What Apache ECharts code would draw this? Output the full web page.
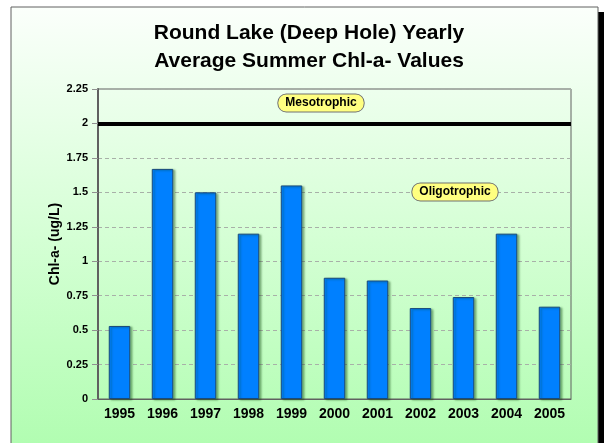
<!DOCTYPE html>
<html>
<head>
<meta charset="utf-8">
<script src="https://cdn.jsdelivr.net/npm/echarts@6/dist/echarts.min.js"></script>
<style>html,body{margin:0;padding:0;background:#fff;}#c{width:604px;height:443px;}</style>
</head>
<body>
<div id="c"></div>
<script>
const years = ['1995','1996','1997','1998','1999','2000','2001','2002','2003','2004','2005'];
const chlA = [0.53, 1.67, 1.5, 1.2, 1.55, 0.88, 0.86, 0.66, 0.74, 1.2, 0.67];
const mesotrophicThreshold = 2;
const yMin = 0, yMax = 2.25, yStep = 0.25;
const titleText = 'Round Lake (Deep Hole) Yearly\nAverage Summer Chl-a- Values';
const yAxisName = 'Chl-a- (ug/L)';
const zoneLabels = ['Mesotrophic', 'Oligotrophic'];

const chart = echarts.init(document.getElementById('c'), null, {renderer: 'canvas'});
const FONT = 'Liberation Sans, Arial, sans-serif';
const tagStyle = (txt) => ({
  text: txt, font: 'bold 12px ' + FONT, fill: '#000',
  backgroundColor: '#ffff80', borderColor: '#707070', borderWidth: 1,
  borderRadius: 8, padding: [3, 7, 2, 7], align: 'center', verticalAlign: 'middle'
});
chart.setOption({
  backgroundColor: '#ffffff',
  animation: false,
  graphic: [
    {type: 'rect', z: -20, shape: {x: 17, y: 12, width: 587, height: 440}, style: {fill: '#000'}, silent: true},
    {type: 'rect', z: -10, shape: {x: 11, y: 7, width: 587, height: 445},
     style: {fill: new echarts.graphic.LinearGradient(0, 0, 0, 1, [
       {offset: 0, color: '#fbfffb'}, {offset: 0.5, color: '#d6ffd6'}, {offset: 1, color: '#b0fdb0'}]),
       stroke: '#606060', lineWidth: 1}, silent: true},
    {type: 'text', z: 50, x: 321, y: 103, style: tagStyle(zoneLabels[0])},
    {type: 'text', z: 50, x: 455, y: 192, style: tagStyle(zoneLabels[1])}
  ],
  title: {
    text: titleText, left: 304, top: 14, textAlign: 'center',
    textStyle: {fontFamily: FONT, fontWeight: 'bold', fontSize: 21, lineHeight: 28, color: '#000'}
  },
  grid: {left: 98, right: 33, top: 89, bottom: 44, show: true, borderColor: '#606060', borderWidth: 1, backgroundColor: 'transparent'},
  xAxis: {
    type: 'category', data: years,
    axisLine: {lineStyle: {color: '#606060', width: 1}},
    axisTick: {show: false},
    axisLabel: {color: '#000', fontFamily: FONT, fontWeight: 'bold', fontSize: 14, margin: 8}
  },
  yAxis: {
    type: 'value', min: yMin, max: yMax, interval: yStep,
    name: yAxisName, nameLocation: 'middle', nameGap: 36, nameRotate: 90, nameMoveOverlap: false,
    nameTextStyle: {color: '#000', fontFamily: FONT, fontWeight: 'bold', fontSize: 14},
    axisLine: {show: true, lineStyle: {color: '#606060', width: 2}},
    axisTick: {show: true, length: 6, lineStyle: {color: '#909090'}},
    axisLabel: {color: '#000', fontFamily: FONT, fontWeight: 'bold', fontSize: 11, margin: 10},
    splitLine: {show: true, lineStyle: {color: '#a8b0a8', type: [4, 3], width: 1}}
  },
  series: [{
    type: 'bar', data: chlA, barWidth: '50%',
    itemStyle: {color: '#0080ff', borderColor: '#1a4a7a', borderWidth: 1,
      shadowColor: 'rgba(0,60,0,0.35)', shadowOffsetX: 2, shadowOffsetY: 1, shadowBlur: 2},
    markLine: {
      silent: true, symbol: 'none', label: {show: false},
      lineStyle: {color: '#000', width: 4, type: 'solid'},
      data: [{yAxis: mesotrophicThreshold}]
    }
  }]
});
</script>
</body>
</html>
